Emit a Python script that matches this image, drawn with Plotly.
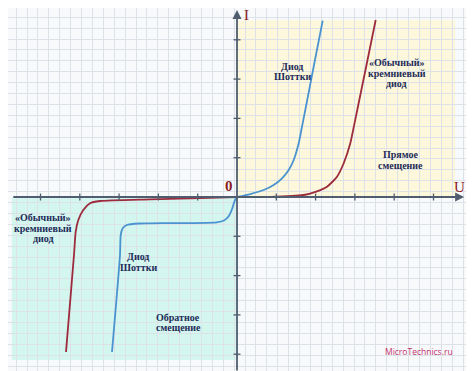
import plotly.graph_objects as go

U = 39.3  # px per unit (layout scale only)
OX, OY = 237, 197   # origin position on the page
PAD = 8             # default body margin of the html page

# ---- data (units: one axis tick = 1) ----
schottky_fwd_u = [0, 0.338, 0.679, 0.934, 1.145, 1.316, 1.443, 1.570, 1.654, 1.738, 1.959, 2.181]
schottky_fwd_i = [0, 0.076, 0.178, 0.305, 0.476, 0.687, 0.941, 1.366, 1.789, 2.214, 3.359, 4.486]
silicon_fwd_u = [0, 0.847, 1.697, 2.036, 2.290, 2.545, 2.715, 2.883, 2.990, 3.060, 3.295, 3.529]
silicon_fwd_i = [0, 0.0, 0.051, 0.145, 0.262, 0.517, 0.858, 1.366, 1.875, 2.214, 3.359, 4.504]
silicon_rev_u = [0, -1.196, -2.214, -3.486, -3.740, -3.911, -4.038, -4.104, -4.148, -4.351]
silicon_rev_i = [0, -0.033, -0.059, -0.102, -0.160, -0.331, -0.585, -0.883, -1.476, -3.944]
schottky_rev_u = [0, -0.051, -0.135, -0.216, -0.331, -0.517, -2.214, -2.468, -2.807, -2.908, -2.959, -2.977, -3.181]
schottky_rev_i = [0, -0.076, -0.331, -0.496, -0.598, -0.644, -0.669, -0.674, -0.712, -0.796, -0.967, -1.476, -3.944]

x_ticks = [-5, -4, -3, -2, -1, 1, 2, 3, 4, 5]
y_ticks = [-4, -3, -2, -1, 1, 2, 3, 4]

RED = "#9c2b3d"
BLUE = "#4a93d0"
AXIS = "#4f5d6e"
NAVY = "#1d2c58"
DRED = "#8a1c1c"

fig = go.Figure()

for xs, ys, c in [(schottky_fwd_u, schottky_fwd_i, BLUE),
                  (silicon_fwd_u, silicon_fwd_i, RED),
                  (silicon_rev_u, silicon_rev_i, RED),
                  (schottky_rev_u, schottky_rev_i, BLUE)]:
    fig.add_trace(go.Scatter(x=xs, y=ys, mode="lines",
                             line=dict(color=c, width=1.8, shape="spline", smoothing=0.6),
                             hoverinfo="skip", showlegend=False))

# tick marks
tl = 3.5 / U
tx, ty = [], []
for t in x_ticks:
    tx += [t, t, None]
    ty += [-tl, tl, None]
for t in y_ticks:
    tx += [-tl, tl, None]
    ty += [t, t, None]
fig.add_trace(go.Scatter(x=tx, y=ty, mode="lines", line=dict(color=AXIS, width=1.3),
                         hoverinfo="skip", showlegend=False))

shapes = [
    dict(type="rect", xref="x", yref="y", x0=0, x1=5.55, y0=0, y1=4.5,
         fillcolor="#fdf8dc", line=dict(width=0), layer="below"),
    dict(type="rect", xref="x", yref="y", x0=-5.73, x1=0, y0=-4.15, y1=0,
         fillcolor="#d3f6ee", line=dict(width=0), layer="below"),
]

ann = []
# axes as arrows
ann.append(dict(x=5.78, y=0, ax=-5.73, ay=0, xref="x", yref="y", axref="x", ayref="y",
                showarrow=True, arrowhead=2, arrowsize=1, arrowwidth=1.8, arrowcolor=AXIS, text=""))
ann.append(dict(x=0, y=(OY - 10) / U, ax=0, ay=-4.45, xref="x", yref="y", axref="x", ayref="y",
                showarrow=True, arrowhead=2, arrowsize=1, arrowwidth=1.8, arrowcolor=AXIS, text=""))

def label(lines, xc, yc, size=10, color=NAVY, spacing=10.5, bold=True, family="Liberation Serif"):
    n = len(lines)
    for k, s in enumerate(lines):
        off = ((n - 1) / 2 - k) * spacing
        ann.append(dict(x=xc, y=yc, xref="x", yref="y", showarrow=False,
                        text=f"<b>{s}</b>" if bold else s, yshift=off,
                        font=dict(family=family, size=size, color=color)))

label(["Диод", "Шоттки"], 1.40, 3.19)
label(["«Обычный»", "кремниевый", "диод"], 4.07, 3.15)
label(["Прямое", "смещение"], 4.16, 0.94)
label(["«Обычный»", "кремниевый", "диод"], -4.93, -0.80)
label(["Диод", "Шоттки"], -2.51, -1.65)
label(["Обратное", "смещение"], -1.49, -3.19)

label(["0"], (228.5 - OX) / U, (OY - 186) / U, size=15, color=DRED)
label(["U"], (459 - OX) / U, (OY - 187) / U, size=15, color=DRED, bold=False)
label(["I"], (246 - OX) / U, (OY - 15) / U, size=15, color=DRED, bold=False)
label(["MicroTechnics.ru"], 4.63, -3.92, size=8.5, color="#c2336f", bold=False, family="Open Sans")

grid_d = 10.9 / U
fig.update_layout(
    width=474 - PAD, height=371 - PAD, margin=dict(l=0, r=0, t=0, b=0),
    paper_bgcolor="#f8f9fa", plot_bgcolor="#f8f9fa",
    shapes=shapes, annotations=ann,
    xaxis=dict(range=[(PAD - OX) / U, (474 - OX) / U], showgrid=True, gridcolor="#dde2e9", gridwidth=1,
               tick0=(386.7 - OX) / U, dtick=grid_d, zeroline=False, showticklabels=False,
               ticks="", fixedrange=True),
    yaxis=dict(range=[(OY - 371) / U, (OY - PAD) / U], showgrid=True, gridcolor="#dde2e9", gridwidth=1,
               tick0=(OY - 333.3) / U, dtick=grid_d, zeroline=False, showticklabels=False,
               ticks="", fixedrange=True),
)
fig.write_html("out.html")
